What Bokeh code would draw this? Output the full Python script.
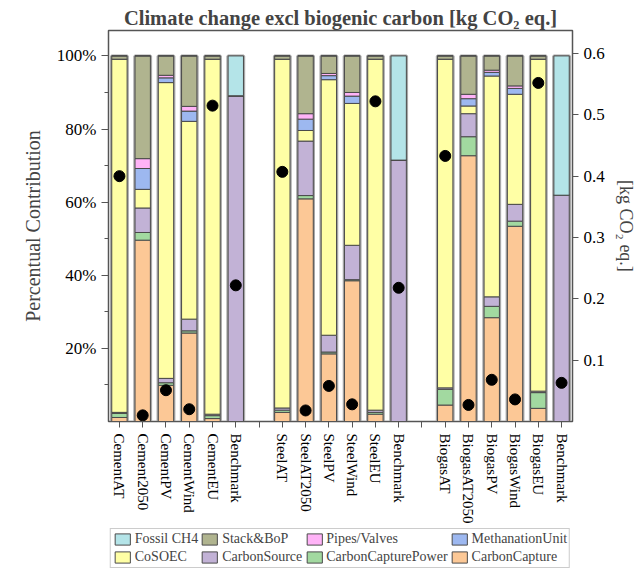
from bokeh.plotting import figure
from bokeh.layouts import column
from bokeh.models import (Range1d, LinearAxis, FixedTicker, NumeralTickFormatter,
                          Legend, LegendItem, ColumnDataSource)
from bokeh.embed import file_html
from bokeh.resources import INLINE

# ---------------- data ----------------
groups = [
    ["CementAT", "Cement2050", "CementPV", "CementWind", "CementEU", "Benchmark"],
    ["SteelAT", "SteelAT2050", "SteelPV", "SteelWind", "SteelEU", "Benchmark"],
    ["BiogasAT", "BiogasAT2050", "BiogasPV", "BiogasWind", "BiogasEU", "Benchmark"],
]

carbon_capture = [0.011, 0.496, 0.099, 0.242, 0.008, 0.000,
                  0.025, 0.609, 0.185, 0.385, 0.020, 0.000,
                  0.045, 0.727, 0.284, 0.534, 0.036, 0.000]
carbon_capture_power = [0.011, 0.021, 0.007, 0.006, 0.008, 0.000,
                        0.006, 0.009, 0.005, 0.003, 0.005, 0.000,
                        0.043, 0.052, 0.031, 0.014, 0.043, 0.000]
carbon_source = [0.003, 0.067, 0.012, 0.032, 0.004, 0.891,
                 0.006, 0.149, 0.046, 0.094, 0.006, 0.715,
                 0.004, 0.063, 0.026, 0.046, 0.004, 0.619]
co_soec = [0.966, 0.051, 0.809, 0.541, 0.971, 0.000,
           0.954, 0.029, 0.699, 0.388, 0.960, 0.000,
           0.899, 0.021, 0.604, 0.301, 0.908, 0.000]
methanation_unit = [0.000, 0.057, 0.013, 0.028, 0.000, 0.000,
                    0.000, 0.031, 0.011, 0.020, 0.000, 0.000,
                    0.000, 0.020, 0.010, 0.016, 0.000, 0.000]
pipes_valves = [0.000, 0.027, 0.007, 0.013, 0.000, 0.000,
                0.000, 0.015, 0.006, 0.010, 0.000, 0.000,
                0.000, 0.012, 0.006, 0.007, 0.000, 0.000]
stack_bop = [0.009, 0.281, 0.053, 0.138, 0.009, 0.000,
             0.009, 0.158, 0.048, 0.100, 0.009, 0.000,
             0.009, 0.105, 0.039, 0.082, 0.009, 0.000]
fossil_ch4 = [0.000, 0.000, 0.000, 0.000, 0.000, 0.109,
              0.000, 0.000, 0.000, 0.000, 0.000, 0.285,
              0.000, 0.000, 0.000, 0.000, 0.000, 0.381]

total_kg_co2 = [0.400, 0.010, 0.051, 0.020, 0.515, 0.222,
                0.407, 0.018, 0.058, 0.028, 0.522, 0.218,
                0.433, 0.027, 0.068, 0.036, 0.552, 0.063]

series_names = ["CarbonCapture", "CarbonCapturePower", "CarbonSource", "CoSOEC",
                "MethanationUnit", "Pipes/Valves", "Stack&BoP", "Fossil CH4"]
series_values = [carbon_capture, carbon_capture_power, carbon_source, co_soec,
                 methanation_unit, pipes_valves, stack_bop, fossil_ch4]
colors = ["#FCC896", "#A2D9A0", "#C2B2D6", "#FFFFA5",
          "#9DB8F0", "#FFB3F7", "#B0B48F", "#B4E4E8"]
# legend reads row by row: first row, then second row
legend_rows = [["Fossil CH4", "Stack&BoP", "Pipes/Valves", "MethanationUnit"],
               ["CoSOEC", "CarbonSource", "CarbonCapturePower", "CarbonCapture"]]

# ---------------- layout helpers ----------------
labels = []
xs = []
for gi, g in enumerate(groups):
    for i, name in enumerate(g):
        xs.append(gi * (len(g) + 1) + i)
        labels.append(name)
n_slots = xs[-1] + 1

data = {"x": xs, "total": total_kg_co2}
for nm, vals in zip(series_names, series_values):
    data[nm] = vals
data["sum"] = [sum(v) for v in zip(*series_values)]
src = ColumnDataSource(data)

SERIF = "Liberation Serif"

p = figure(width=638, height=528, output_backend="svg", toolbar_location=None,
           x_range=Range1d(-0.47, n_slots - 1 + 0.47), y_range=Range1d(0, 1.0695),
           min_border_left=108, min_border_right=62, min_border_top=30, min_border_bottom=107,
           background_fill_color="white", border_fill_color="white")
p.extra_y_ranges = {"kg": Range1d(0, 0.6375)}

p.title.text = "Climate change excl biogenic carbon [kg CO\u2082 eq.]"
p.title.text_font = SERIF
p.title.text_font_size = "20.5px"
p.title.text_font_style = "bold"
p.title.align = "center"
p.title.standoff = 4
p.title.offset = 0

p.grid.visible = False
p.outline_line_color = "#555555"
p.outline_line_width = 1.5

# shadow outline of bars
p.vbar(x="x", top="sum", bottom=0, width=0.68, source=src, fill_color=None,
       line_color="#A8A8A8", line_width=3)

renderers = p.vbar_stack(series_names, x="x", width=0.66, source=src,
                         color=colors, line_color="#4A4A4A", line_width=1)

p.scatter(x="x", y="total", source=src, size=11, color="black", y_range_name="kg")

# x axis
xa = p.xaxis[0]
xa.ticker = FixedTicker(ticks=list(range(n_slots)))
overrides = {i: "" for i in range(n_slots)}
for x, lab in zip(xs, labels):
    overrides[x] = lab
xa.major_label_overrides = overrides
xa.major_label_orientation = "vertical"
xa.major_label_text_font = SERIF
xa.major_label_text_font_size = "15px"
xa.major_label_text_color = "black"
xa.major_tick_in = 0
xa.major_tick_out = 6
xa.minor_tick_out = 0
xa.minor_tick_in = 0
xa.axis_line_color = "#555555"
xa.major_tick_line_color = "#555555"
xa.major_label_standoff = 6

# left axis
ya = p.yaxis[0]
ya.ticker = FixedTicker(ticks=[0.2, 0.4, 0.6, 0.8, 1.0], minor_ticks=[0.1, 0.3, 0.5, 0.7, 0.9])
ya.formatter = NumeralTickFormatter(format="0%")
ya.axis_label = "Percentual Contribution"
ya.axis_label_text_font = SERIF
ya.axis_label_text_font_size = "20px"
ya.axis_label_text_font_style = "normal"
ya.axis_label_standoff = 10
ya.major_label_text_font = SERIF
ya.major_label_text_font_size = "17px"
ya.major_label_text_color = "black"
ya.major_tick_in = 0
ya.major_tick_out = 7
ya.minor_tick_in = 0
ya.minor_tick_out = 4
ya.axis_line_color = "#555555"
ya.major_tick_line_color = "#555555"
ya.minor_tick_line_color = "#555555"

# right axis
ra = LinearAxis(y_range_name="kg",
                ticker=FixedTicker(ticks=[0.1, 0.2, 0.3, 0.4, 0.5, 0.6], minor_ticks=[]))
ra.axis_label = "[kg CO\u2082 eq.]"
ra.axis_label_text_font = SERIF
ra.axis_label_text_font_size = "18px"
ra.axis_label_text_font_style = "normal"
ra.axis_label_standoff = 8
ra.major_label_text_font = SERIF
ra.major_label_text_font_size = "17px"
ra.major_label_text_color = "black"
ra.major_tick_in = 0
ra.major_tick_out = 6
ra.minor_tick_out = 0
ra.axis_line_color = "#555555"
ra.major_tick_line_color = "#555555"
p.add_layout(ra, "right")

# ---------------- legend strip ----------------
pl = figure(width=638, height=40, output_backend="svg", toolbar_location=None,
            x_axis_type=None, y_axis_type=None, x_range=Range1d(0, 1), y_range=Range1d(0, 1),
            min_border=0, outline_line_color=None,
            background_fill_color="white", border_fill_color="white")
pl.grid.visible = False
lrmap = {}
for nm, c in zip(series_names, colors):
    # swatch-only renderers (placed outside the visible range)
    lrmap[nm] = pl.vbar(x=[5], top=[0], bottom=[0], width=0.5, fill_color=c,
                        line_color="#4A4A4A", line_width=1)
# Bokeh fills legend columns first, so interleave the two rows
col_major = [legend_rows[r][c] for c in range(4) for r in range(2)]
items = [LegendItem(label=nm, renderers=[lrmap[nm]]) for nm in col_major]
legend = Legend(items=items, ncols=4, location="center",
                label_text_font=SERIF, label_text_font_size="14px",
                glyph_width=19, glyph_height=14, label_height=15, label_standoff=3,
                spacing=2, padding=2, margin=0,
                border_line_color="#999999", border_line_width=1,
                background_fill_alpha=1.0)
pl.add_layout(legend, "center")

layout = column(p, pl, spacing=0)
open("out.html", "w").write(file_html(layout, INLINE))
